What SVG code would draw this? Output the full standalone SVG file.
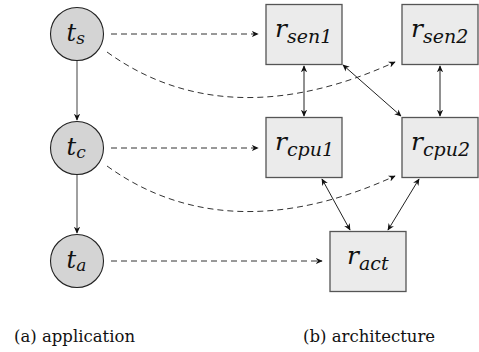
<svg xmlns="http://www.w3.org/2000/svg" width="479" height="352" viewBox="0 0 479 352">
<style>
.task circle{fill:#d4d4d4;stroke:#222;stroke-width:1.1}
.res rect{fill:#ebebeb;stroke:#555;stroke-width:1.3}
.dep{stroke:#808080;stroke-width:1.5;fill:none}
.map{stroke:#333;stroke-width:1;stroke-dasharray:6 4;fill:none}
.link{stroke:#222;stroke-width:1;fill:none}
.m{font-family:"DejaVu Serif",serif;font-style:italic;fill:#111}
.cap{font-family:"DejaVu Serif",serif;font-size:16.5px;fill:#111}
</style>
<defs>
<marker id="ah" viewBox="0 0 10 10" refX="9" refY="5" markerWidth="7" markerHeight="7" markerUnits="userSpaceOnUse" orient="auto-start-reverse">
<path d="M0,0.5 L10,5 L0,9.5 L3,5 Z" fill="#111"/>
</marker>
</defs>
<rect width="479" height="352" fill="#fff"/>
<g id="connectors">
<line class="dep" x1="77" y1="61" x2="77" y2="120" marker-end="url(#ah)"/>
<line class="dep" x1="77" y1="175" x2="77" y2="233" marker-end="url(#ah)"/>
<line class="map" x1="111" y1="34" x2="258" y2="34" marker-end="url(#ah)"/>
<line class="map" x1="111" y1="148" x2="258" y2="148" marker-end="url(#ah)"/>
<line class="map" x1="111" y1="261" x2="322" y2="261" marker-end="url(#ah)"/>
<path class="map" d="M107,52 C190,112 290,110 395,62" marker-end="url(#ah)"/>
<path class="map" d="M107,166 C190,226 290,224 395,176" marker-end="url(#ah)"/>
<line class="link" x1="304" y1="66" x2="304" y2="116" marker-start="url(#ah)" marker-end="url(#ah)"/>
<line class="link" x1="440" y1="66" x2="440" y2="116" marker-start="url(#ah)" marker-end="url(#ah)"/>
<line class="link" x1="343" y1="65" x2="401" y2="116" marker-start="url(#ah)" marker-end="url(#ah)"/>
<line class="link" x1="322" y1="179" x2="350" y2="230" marker-start="url(#ah)" marker-end="url(#ah)"/>
<line class="link" x1="419" y1="179" x2="388" y2="230" marker-start="url(#ah)" marker-end="url(#ah)"/>
</g>
<g id="t_s" class="task"><circle cx="77" cy="34" r="26.5"/><text class="m" x="66.5" y="40.5"><tspan font-size="24">t</tspan><tspan font-size="17" dy="3.5">s</tspan></text></g>
<g id="t_c" class="task"><circle cx="77" cy="148" r="26.5"/><text class="m" x="66.5" y="154.5"><tspan font-size="24">t</tspan><tspan font-size="17" dy="3.5">c</tspan></text></g>
<g id="t_a" class="task"><circle cx="77" cy="261" r="26.5"/><text class="m" x="66.5" y="267.5"><tspan font-size="24">t</tspan><tspan font-size="17" dy="3.5">a</tspan></text></g>
<g id="r_sen1" class="res"><rect x="266" y="4.5" width="76" height="60"/><text class="m" x="275" y="37"><tspan font-size="25">r</tspan><tspan font-size="19" dy="6">sen1</tspan></text></g>
<g id="r_sen2" class="res"><rect x="402" y="4.5" width="76" height="60"/><text class="m" x="411" y="37"><tspan font-size="25">r</tspan><tspan font-size="19" dy="6">sen2</tspan></text></g>
<g id="r_cpu1" class="res"><rect x="266" y="117.5" width="76" height="60"/><text class="m" x="275" y="150"><tspan font-size="25">r</tspan><tspan font-size="19" dy="6">cpu1</tspan></text></g>
<g id="r_cpu2" class="res"><rect x="402" y="117.5" width="76" height="60"/><text class="m" x="411" y="150"><tspan font-size="25">r</tspan><tspan font-size="19" dy="6">cpu2</tspan></text></g>
<g id="r_act" class="res"><rect x="330" y="231.5" width="76" height="60"/><text class="m" x="347" y="264"><tspan font-size="25">r</tspan><tspan font-size="19" dy="6">act</tspan></text></g>
<text class="cap" x="14" y="342">(a) application</text>
<text class="cap" x="303" y="342">(b) architecture</text>
</svg>
